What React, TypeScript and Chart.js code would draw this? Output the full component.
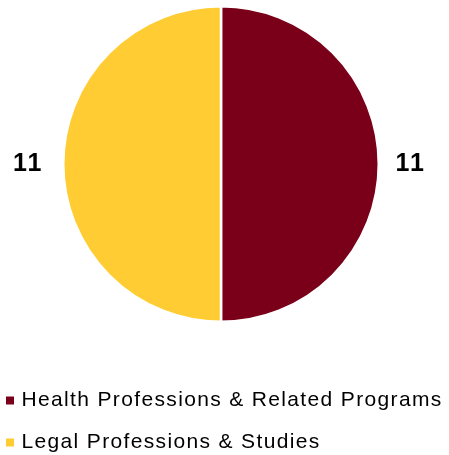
import React, { useEffect, useRef } from "react";
import { Chart, registerables } from "chart.js";

Chart.register(...registerables);

const categories = ["Health Professions & Related Programs", "Legal Professions & Studies"];
const values = [11, 11];
const colors = ["#7A0019", "#FFCC33"];

const textSpacing = {
  id: "textSpacing",
  beforeLayout(chart: any) {
    chart.ctx.letterSpacing = "1.35px";
  },
  beforeDraw(chart: any) {
    chart.ctx.letterSpacing = "1.35px";
  },
};

const outsideLabels = {
  id: "outsideLabels",
  afterDatasetsDraw(chart: any) {
    const ctx = chart.ctx;
    const meta = chart.getDatasetMeta(0);
    const gaps = [31, 36];
    ctx.save();
    ctx.letterSpacing = "2px";
    ctx.font = "bold 25px 'Liberation Sans', Arial, sans-serif";
    ctx.fillStyle = "#000";
    ctx.textAlign = "center";
    ctx.textBaseline = "middle";
    meta.data.forEach((arc: any, i: number) => {
      const p = arc.getProps(["x", "y", "startAngle", "endAngle", "outerRadius"], true);
      const mid = (p.startAngle + p.endAngle) / 2;
      const r = p.outerRadius + gaps[i];
      ctx.fillText(String(values[i]), p.x + Math.cos(mid) * r + 1, p.y + Math.sin(mid) * r);
    });
    ctx.restore();
  },
};

export default function App() {
  const ref = useRef<HTMLCanvasElement>(null);
  useEffect(() => {
    if (!ref.current) return;
    Chart.defaults.color = "#000";
    const baseGen = (Chart as any).overrides.pie.plugins.legend.labels.generateLabels;
    const chart = new Chart(ref.current, {
      type: "pie",
      data: {
        labels: categories,
        datasets: [
          {
            data: values,
            backgroundColor: colors,
            borderColor: "#fff",
            borderWidth: 2.5,
          },
        ],
      },
      options: {
        animation: false,
        responsive: false,
        layout: { padding: { left: -12, right: 7, top: 5, bottom: -8 } },
        plugins: {
          tooltip: { enabled: false },
          legend: {
            position: "bottom",
            align: "start",
            title: { display: true, text: "", font: { size: 10 }, padding: { top: 34, bottom: 0 } },
            labels: {
              boxWidth: 2,
              boxHeight: 2,
              padding: 21,
              color: "#000",
              font: { size: 21, family: "'Liberation Sans', Arial, sans-serif" },
              generateLabels: (c: any) =>
                baseGen(c).map((l: any, i: number) => ({
                  ...l,
                  fillStyle: colors[i],
                  strokeStyle: colors[i],
                  lineWidth: 6,
                  lineJoin: "miter",
                })),
            },
          },
        },
      },
      plugins: [textSpacing, outsideLabels],
    });
    return () => chart.destroy();
  }, []);
  return (
    <div style={{ position: "fixed", left: 0, top: 0, width: 449, height: 455, background: "#fff" }}>
      <canvas ref={ref} width={449} height={455} style={{ display: "block" }} />
    </div>
  );
}
